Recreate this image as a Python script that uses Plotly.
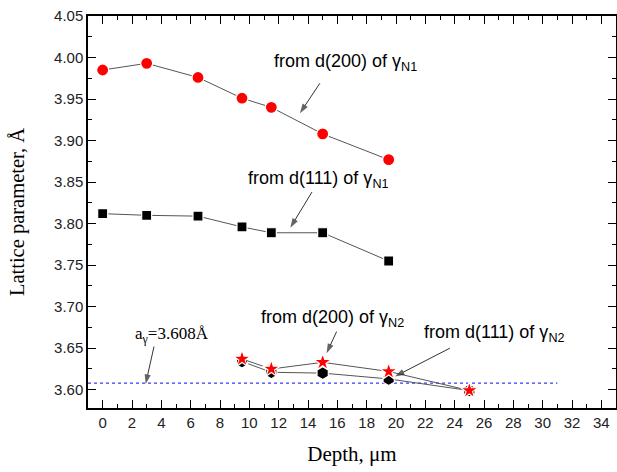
import plotly.graph_objects as go

# Depth (µm) and lattice parameter (Å) for each reflection / phase
depth_n1 = [0, 3, 6.5, 9.5, 11.5, 15, 19.5]
a200_n1 = [3.985, 3.993, 3.976, 3.951, 3.940, 3.908, 3.877]
a111_n1 = [3.812, 3.810, 3.809, 3.796, 3.789, 3.789, 3.755]

depth_n2 = [9.5, 11.5, 15, 19.5, 25]
a200_n2 = [3.637, 3.625, 3.633, 3.622, 3.599]
a111_n2 = [3.634, 3.621, 3.620, 3.613, 3.599]

# austenite reference lattice parameter and the depth span it is drawn over
a_gamma = 3.608
ref_span = [-1, 31]

x_ticks = list(range(0, 35, 2))
y_ticks = [3.60, 3.65, 3.70, 3.75, 3.80, 3.85, 3.90, 3.95, 4.00, 4.05]

LINE = dict(color="#555555", width=1)
OUTLINE = dict(color="white", width=1.2)

fig = go.Figure()

fig.add_trace(go.Scatter(
    x=ref_span, y=[a_gamma, a_gamma], mode="lines",
    line=dict(color="#3a3aff", width=1.2, dash="dot"), hoverinfo="skip"))

fig.add_trace(go.Scatter(
    x=depth_n1, y=a200_n1, mode="lines+markers", line=LINE,
    marker=dict(symbol="circle", size=12, color="#ff0000", line=OUTLINE)))

fig.add_trace(go.Scatter(
    x=depth_n1, y=a111_n1, mode="lines+markers", line=LINE,
    marker=dict(symbol="square", size=10, color="black", line=OUTLINE)))

fig.add_trace(go.Scatter(
    x=depth_n2, y=a111_n2, mode="lines+markers", line=LINE,
    marker=dict(symbol="hexagon", size=13, color="black", line=OUTLINE)))

fig.add_trace(go.Scatter(
    x=depth_n2, y=a200_n2, mode="lines+markers", line=LINE,
    marker=dict(symbol="star", size=13, color="#ff0000", line=OUTLINE)))

SANS = dict(family="Liberation Sans, Arial, sans-serif", size=18, color="black")
SERIF = dict(family="Liberation Serif, Times New Roman, serif", size=17, color="black")

labels = [
    ("from d(200) of γ<sub>N1</sub>", 16.55, 3.994, SANS),
    ("from d(111) of γ<sub>N1</sub>", 14.68, 3.853, SANS),
    ("from d(200) of γ<sub>N2</sub>", 15.70, 3.686, SANS),
    ("from d(111) of γ<sub>N2</sub>", 26.67, 3.668, SANS),
    ("a<sub>γ</sub>=3.608Å", 4.76, 3.666, SERIF),
]
for text, x, y, font in labels:
    fig.add_annotation(x=x, y=y, text=text, showarrow=False, font=font,
                       xanchor="center", yanchor="middle")

# pointer arrows from each label to its curve: (tail x, tail y, head x, head y)
arrows = [
    (14.81, 3.969, 13.45, 3.933),
    (14.27, 3.838, 12.79, 3.795),
    (15.95, 3.670, 15.27, 3.644),
    (23.67, 3.650, 19.93, 3.616),
    (3.50, 3.652, 2.93, 3.607),
]
for tx, ty, hx, hy in arrows:
    fig.add_trace(go.Scatter(
        x=[tx, hx], y=[ty, hy], mode="lines+markers",
        line=dict(color="#333333", width=1),
        marker=dict(symbol="arrow", size=[0, 10], color="#222222",
                    angleref="previous", line=dict(width=0)),
        hoverinfo="skip"))

axis_common = dict(
    showline=True, linecolor="black", linewidth=1.5, mirror="ticks",
    ticks="inside", ticklen=8, tickwidth=1, tickcolor="black",
    showgrid=False, zeroline=False,
    tickfont=dict(family="Liberation Sans, Arial, sans-serif", size=15,
                  color="#222222"),
)

fig.update_xaxes(
    range=[-1, 35], tickvals=x_ticks,
    minor=dict(ticks="inside", ticklen=4, dtick=1, tick0=0,
               tickcolor="black", showgrid=False),
    title=dict(text="Depth, μm", standoff=17,
               font=dict(family="Liberation Serif, Times New Roman, serif",
                         size=21, color="black")),
    **axis_common)

fig.update_yaxes(
    range=[3.578, 4.05], tickvals=y_ticks, tickformat=".2f",
    minor=dict(ticks="inside", ticklen=4, dtick=0.025, tick0=3.6,
               tickcolor="black", showgrid=False),
    title=dict(text="Lattice parameter, Å", standoff=24,
               font=dict(family="Liberation Serif, Times New Roman, serif",
                         size=20.5, color="black")),
    **axis_common)

fig.update_layout(
    width=617, height=472,
    margin=dict(l=88, r=1, t=16, b=64, autoexpand=False),
    paper_bgcolor="white", plot_bgcolor="white",
    showlegend=False,
)

fig.write_html("out.html")
